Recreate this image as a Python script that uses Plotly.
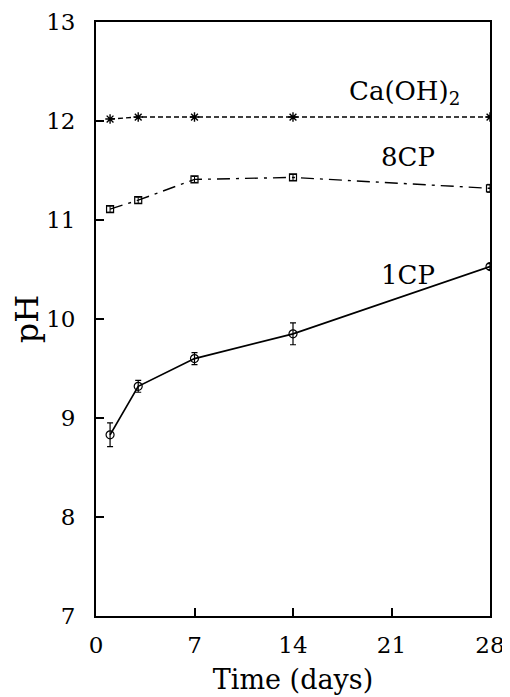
import plotly.graph_objects as go

days = [1, 3, 7, 14, 28]
ca_oh2 = [12.02, 12.04, 12.04, 12.04, 12.04]
cp8 = [11.11, 11.20, 11.41, 11.43, 11.32]
cp8_err = [0.03, 0.03, 0.03, 0.03, 0.04]
cp1 = [8.83, 9.32, 9.60, 9.85, 10.53]
cp1_err = [0.12, 0.06, 0.06, 0.11, 0.03]

x_ticks = [0, 7, 14, 21, 28]
y_ticks = [7, 8, 9, 10, 11, 12, 13]

font = "DejaVu Serif, Liberation Serif, serif"

fig = go.Figure()
fig.add_trace(go.Scatter(
    x=days, y=ca_oh2, mode="lines+markers",
    line=dict(color="black", width=1.4, dash="5px,3px"),
    marker=dict(symbol="asterisk-open", size=8, color="black", line=dict(width=1.4, color="black")),
    showlegend=False))
fig.add_trace(go.Scatter(
    x=days, y=cp8, mode="lines+markers",
    error_y=dict(type="data", array=cp8_err, color="black", thickness=1, width=3),
    line=dict(color="black", width=1.4, dash="13px,6px,3px,6px"),
    marker=dict(symbol="square-open", size=7, color="black", line=dict(width=1.2)),
    showlegend=False))
fig.add_trace(go.Scatter(
    x=days, y=cp1, mode="lines+markers",
    error_y=dict(type="data", array=cp1_err, color="black", thickness=1.2, width=3),
    line=dict(color="black", width=1.7),
    marker=dict(symbol="circle-open", size=8, color="black", line=dict(width=1.2)),
    showlegend=False))

annots = [
    (21.9, 12.29, "Ca(OH)<sub>2</sub>"),
    (22.2, 11.64, "8CP"),
    (22.2, 10.44, "1CP"),
]
for x, y, t in annots:
    fig.add_annotation(x=x, y=y, text=t, showarrow=False,
                       font=dict(family=font, size=26, color="black"))

fig.update_layout(
    width=502, height=689,
    margin=dict(l=88, r=20, t=14, b=81),
    plot_bgcolor="white", paper_bgcolor="white",
    font=dict(family=font, color="black"),
)
fig.update_xaxes(
    range=[0, 28], tickvals=x_ticks, ticks="inside", ticklen=8, tickwidth=1.5,
    tickcolor="black", showline=True, linecolor="black", linewidth=1.8, mirror=True,
    showgrid=False, zeroline=False, tickfont=dict(family=font, size=23),
    ticklabelstandoff=7, automargin=False,
    title=dict(text="Time (days)", font=dict(family=font, size=27), standoff=14),
)
fig.update_yaxes(
    range=[7, 13], tickvals=y_ticks, ticks="inside", ticklen=8, tickwidth=1.5,
    tickcolor="black", showline=True, linecolor="black", linewidth=1.8, mirror=True,
    showgrid=False, zeroline=False, tickfont=dict(family=font, size=23),
    ticklabelstandoff=14, automargin=False,
    title=dict(text="pH", font=dict(family=font, size=32), standoff=11),
)
fig.write_html("out.html")
